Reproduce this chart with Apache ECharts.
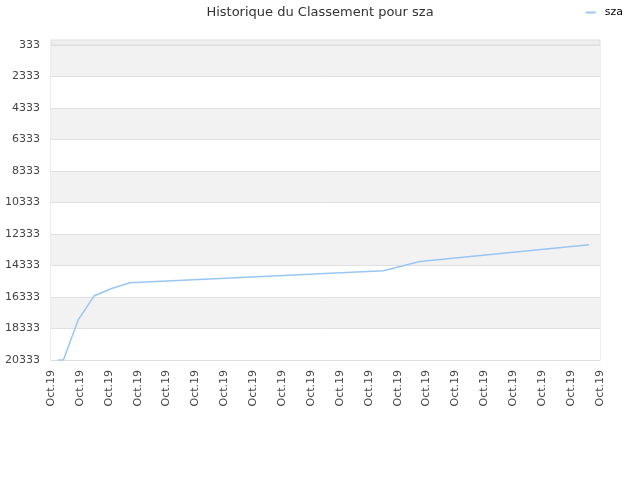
<!DOCTYPE html>
<html><head><meta charset="utf-8">
<script src="https://cdn.jsdelivr.net/npm/echarts@6/dist/echarts.min.js"></script>
<style>html,body{margin:0;padding:0;background:#fff}#c{width:640px;height:480px}</style>
</head><body><div id="c"></div>
<script>
const tickLabels = Array(20).fill('Oct.19');
const xPos = [0.25, 0.43, 0.94, 1.50, 2.10, 2.73, 11.50, 12.77, 18.62];
const rankValues = [20333, 20333, 17790, 16250, 15790, 15430, 14670, 14080, 13010];
const seriesName = 'sza';

const chart = echarts.init(document.getElementById('c'));
chart.setOption({
  animation: false,
  title: { text: 'Historique du Classement pour ' + seriesName, left: 'center', top: 1,
    textStyle: { fontFamily: 'DejaVu Sans', fontSize: 13, fontWeight: 'normal', color: '#333' } },
  legend: { data: [seriesName], right: 12, top: 2, itemWidth: 10, itemHeight: 2, itemGap: 6,
    icon: 'rect', textStyle: { fontFamily: 'DejaVu Sans', fontSize: 11, color: '#000', padding: [0, 0, 0, 4] } },
  graphic: [{ type: 'rect', shape: { x: 51, y: 40, width: 549, height: 5 },
    style: { fill: '#efefef', stroke: '#dddddd', lineWidth: 1 }, silent: true }],
  grid: { left: 51, right: 40, top: 45, bottom: 120, show: true, borderColor: '#dddddd', borderWidth: 1 },
  xAxis: { type: 'value', min: 0, max: tickLabels.length - 1, interval: 1,
    axisLine: { lineStyle: { color: '#dddddd' } }, axisTick: { show: false }, splitLine: { show: false },
    axisLabel: { rotate: 90, fontFamily: 'DejaVu Sans', fontSize: 11, color: '#444', margin: 10,
      formatter: function (v) { return tickLabels[Math.round(v)] || ''; } } },
  yAxis: { type: 'value', inverse: true, min: 333, max: 20333, interval: 2000,
    axisLine: { show: false }, axisTick: { show: false },
    splitLine: { lineStyle: { color: '#e0e0e0' } },
    splitArea: { show: true, areaStyle: { color: ['#f2f2f2', '#ffffff'] } },
    axisLabel: { fontFamily: 'DejaVu Sans', fontSize: 11, color: '#444', margin: 11,
      formatter: function (v) { return String(v); } } },
  series: [{ name: seriesName, type: 'line', symbol: 'none',
    data: xPos.map((x, i) => [x, rankValues[i]]),
    lineStyle: { color: '#99c6f4', width: 1.5 }, itemStyle: { color: '#99c6f4' } }]
});
</script></body></html>
